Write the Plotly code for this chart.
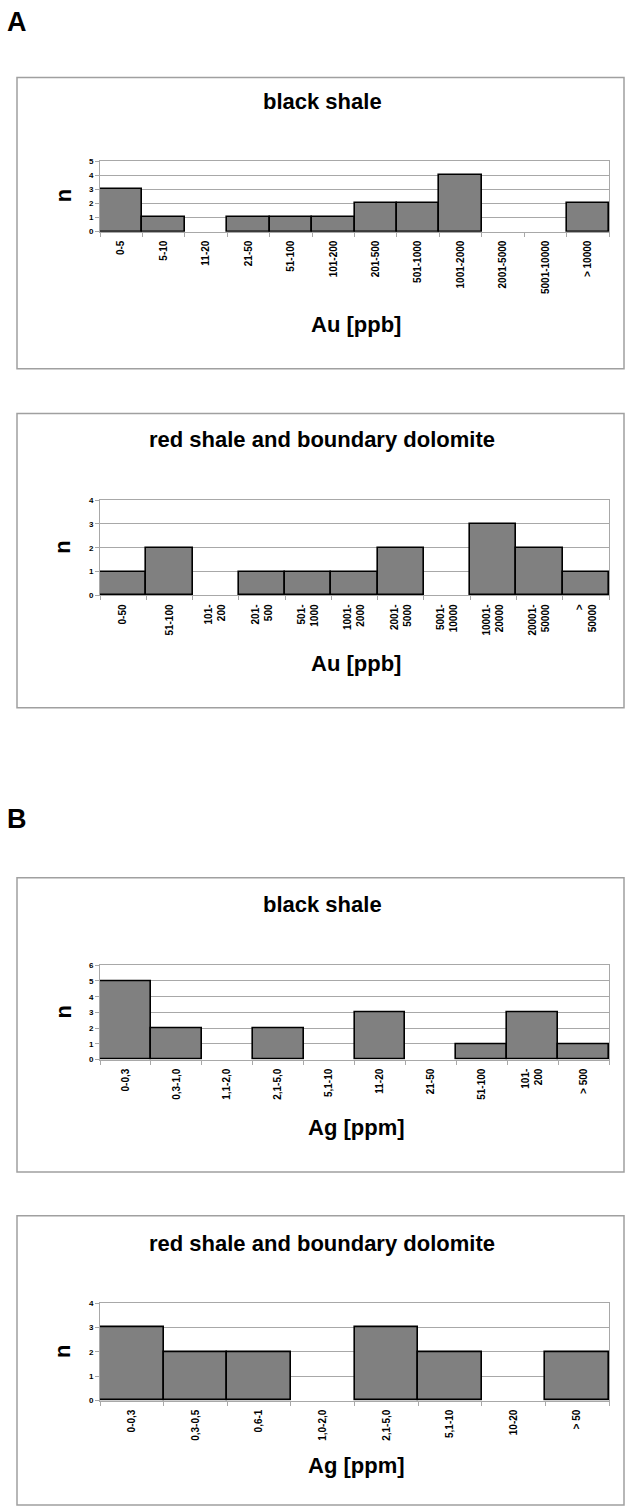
import plotly.graph_objects as go

# ---- data ----
a1_cats = ["0-5", "5-10", "11-20", "21-50", "51-100", "101-200", "201-500",
           "501-1000", "1001-2000", "2001-5000", "5001-10000", "> 10000"]
a1_vals = [3, 1, 0, 1, 1, 1, 2, 2, 4, 0, 0, 2]

a2_cats = ["0-50", "51-100", "101-<br>200", "201-<br>500", "501-<br>1000",
           "1001-<br>2000", "2001-<br>5000", "5001-<br>10000", "10001-<br>20000",
           "20001-<br>50000", "><br>50000"]
a2_vals = [1, 2, 0, 1, 1, 1, 2, 0, 3, 2, 1]

b1_cats = ["0-0,3", "0,3-1,0", "1,1-2,0", "2,1-5,0", "5,1-10", "11-20",
           "21-50", "51-100", "101-<br>200", "> 500"]
b1_vals = [5, 2, 0, 2, 0, 3, 0, 1, 3, 1]

b2_cats = ["0-0,3", "0,3-0,5", "0,6-1", "1,0-2,0", "2,1-5,0", "5,1-10",
           "10-20", "> 50"]
b2_vals = [3, 2, 2, 0, 3, 2, 0, 2]

titles = ["black shale", "red shale and boundary dolomite",
          "black shale", "red shale and boundary dolomite"]
xtitles = ["Au [ppb]", "Au [ppb]", "Ag [ppm]", "Ag [ppm]"]
ymax = [5, 4, 6, 4]

W, H = 627, 1512
FONT = "Arial, Liberation Sans, sans-serif"

# layout in pixels
plot_x = (100, 609)
plot_y = [(158, 229), (499, 595), (967, 1062), (1307, 1405)]
boxes = [(17, 74, 624, 367), (17, 412, 624, 708), (17, 879, 624, 1175), (17, 1219, 624, 1510)]
title_y = [98, 438, 906, 1247]
xtitle_y = [322, 663, 1130, 1470]
panel_labels = [("A", 17, 18), ("B", 17, 820)]

def px(x):
    return x / W

def py(y):
    return 1 - y / H

fig = go.Figure()
data = [(a1_cats, a1_vals), (a2_cats, a2_vals), (b1_cats, b1_vals), (b2_cats, b2_vals)]
GRID = "#a8a8a8"

for i, (cats, vals) in enumerate(data):
    n = i + 1
    xa = "x" if n == 1 else f"x{n}"
    ya = "y" if n == 1 else f"y{n}"
    shown = [v if v > 0 else None for v in vals]  # empty classes draw no outline
    fig.add_trace(go.Bar(x=cats, y=shown, xaxis=xa, yaxis=ya,
                         marker=dict(color="#808080", line=dict(color="black", width=1.6)),
                         showlegend=False, hoverinfo="skip"))
    xk = "xaxis" if n == 1 else f"xaxis{n}"
    yk = "yaxis" if n == 1 else f"yaxis{n}"
    y0, y1 = plot_y[i]
    fig.layout[xk] = dict(domain=[px(plot_x[0]), px(plot_x[1])], anchor=ya,
                          type="category", categoryorder="array", categoryarray=cats,
                          tickangle=-90, tickson="boundaries",
                          ticks="outside", ticklen=4, tickcolor=GRID,
                          showline=True, linecolor=GRID, linewidth=1, mirror=True,
                          showgrid=False, ticklabelstandoff=4,
                          tickfont=dict(family=FONT, size=10, color="black", weight="bold"),
                          fixedrange=True)
    fig.layout[yk] = dict(domain=[py(y1), py(y0)], anchor=xa, range=[0, ymax[i]],
                          tickvals=list(range(ymax[i] + 1)), ticks="outside",
                          ticklen=4, tickcolor=GRID, showline=True, linecolor=GRID,
                          linewidth=1, mirror=True, showgrid=True, gridcolor=GRID,
                          gridwidth=1, zeroline=False,
                          tickfont=dict(family=FONT, size=8, color="black", weight="bold"),
                          fixedrange=True)

shapes = []
for (x0, y0, x1, y1) in boxes:
    shapes.append(dict(type="rect", xref="paper", yref="paper",
                       x0=px(x0), x1=px(x1), y0=py(y1), y1=py(y0),
                       line=dict(color="#a0a0a0", width=1.5), fillcolor="rgba(0,0,0,0)",
                       layer="below"))

ann = []
for i in range(4):
    ann.append(dict(text=titles[i], x=px(322), y=py(title_y[i]), xref="paper", yref="paper",
                    xanchor="center", yanchor="middle", showarrow=False,
                    font=dict(family=FONT, size=22, color="black", weight="bold")))
    ann.append(dict(text=xtitles[i], x=px(356), y=py(xtitle_y[i]), xref="paper", yref="paper",
                    xanchor="center", yanchor="middle", showarrow=False,
                    font=dict(family=FONT, size=22, color="black", weight="bold")))
    yc = (plot_y[i][0] + plot_y[i][1]) / 2
    ann.append(dict(text="n", x=px(63), y=py(yc), xref="paper", yref="paper",
                    xanchor="center", yanchor="middle", showarrow=False, textangle=-90,
                    font=dict(family=FONT, size=22, color="black", weight="bold")))
for (t, x, y) in panel_labels:
    ann.append(dict(text=t, x=px(x), y=py(y), xref="paper", yref="paper",
                    xanchor="center", yanchor="middle", showarrow=False,
                    font=dict(family=FONT, size=27, color="black", weight="bold")))

fig.update_layout(width=W, height=H, margin=dict(l=0, r=0, t=0, b=0),
                  paper_bgcolor="white", plot_bgcolor="white", bargap=0,
                  shapes=shapes, annotations=ann)

fig.write_html("out.html", config={"displayModeBar": False},
               post_script="document.body.style.margin='0';document.body.style.overflow='hidden';")
